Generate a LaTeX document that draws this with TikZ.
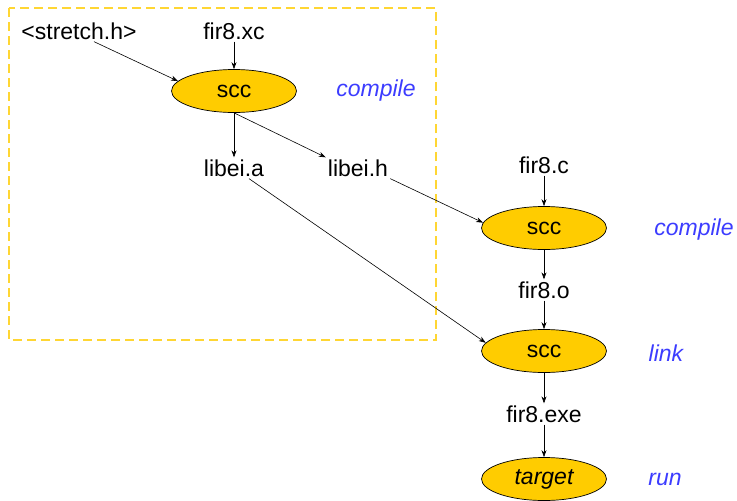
\documentclass[tikz,border=0pt]{standalone}
\usepackage{fontspec}
\setmainfont{Liberation Sans}
\usepackage{tikz}
\usetikzlibrary{shapes.geometric}
\usetikzlibrary{arrows.meta}
\definecolor{sccgold}{RGB}{255,204,0}
\definecolor{stepblue}{RGB}{60,60,255}
\definecolor{boxgold}{RGB}{255,214,51}

\begin{document}
\begin{tikzpicture}[x=1pt,y=-1pt,
  font=\fontsize{23}{27}\selectfont,
  file/.style={inner sep=2pt},
  tool/.style={ellipse,draw=black,line width=0.7pt,fill=sccgold,minimum width=125pt,minimum height=43pt,inner sep=0pt},
  stage/.style={text=stepblue,font=\fontsize{23}{27}\selectfont\itshape},
  flow/.style={-{Stealth[length=7pt,width=5pt]},line width=0.6pt}]

\useasboundingbox (0,0) rectangle (737,501);

%library part
\draw[boxgold,line width=1.3pt,dash pattern=on 9pt off 5pt] (9,8) rectangle (436,340);
\node[file] (stretch) at (79,31) {<stretch.h>};
\node[file] (xc) at (234,31) {fir8.xc};
\node[tool] (scc1) at (234,91) {scc};
\node[stage] (comp1) at (376,91) {compile};
\node[file] (liba) at (234,168) {libei.a};
\node[file] (libh) at (358,168) {libei.h};

%application
\node[file] (fc) at (544,165) {fir8.c};
\node[tool] (scc2) at (544,228) {scc};
\node[stage] (comp2) at (694,230) {compile};
\node[file] (fo) at (544,290) {fir8.o};
\node[tool] (scc3) at (544,351) {scc};
\node[stage] (lnk) at (666,353) {link};
\node[file] (exe) at (544,414) {fir8.exe};
\node[tool] (tgt) at (544,479) {\itshape target};
\node[stage] (rn) at (665,479) {run};

\draw[flow] ([xshift=15pt]stretch.south) -- (scc1.170);
\draw[flow] (xc) -- (scc1);
\draw[flow] (scc1) -- (liba);
\draw[flow] (scc1.south) -- (libh.north west);
\draw[flow] (libh.south east) -- (scc2.175);
\draw[flow] ([xshift=15pt]liba.south) -- (scc3.172);
\draw[flow] (fc) -- (scc2);
\draw[flow] (scc2) -- (fo);
\draw[flow] (fo) -- (scc3);
\draw[flow] (scc3) -- (exe);
\draw[flow] (exe) -- (tgt);

\end{tikzpicture}
\end{document}
